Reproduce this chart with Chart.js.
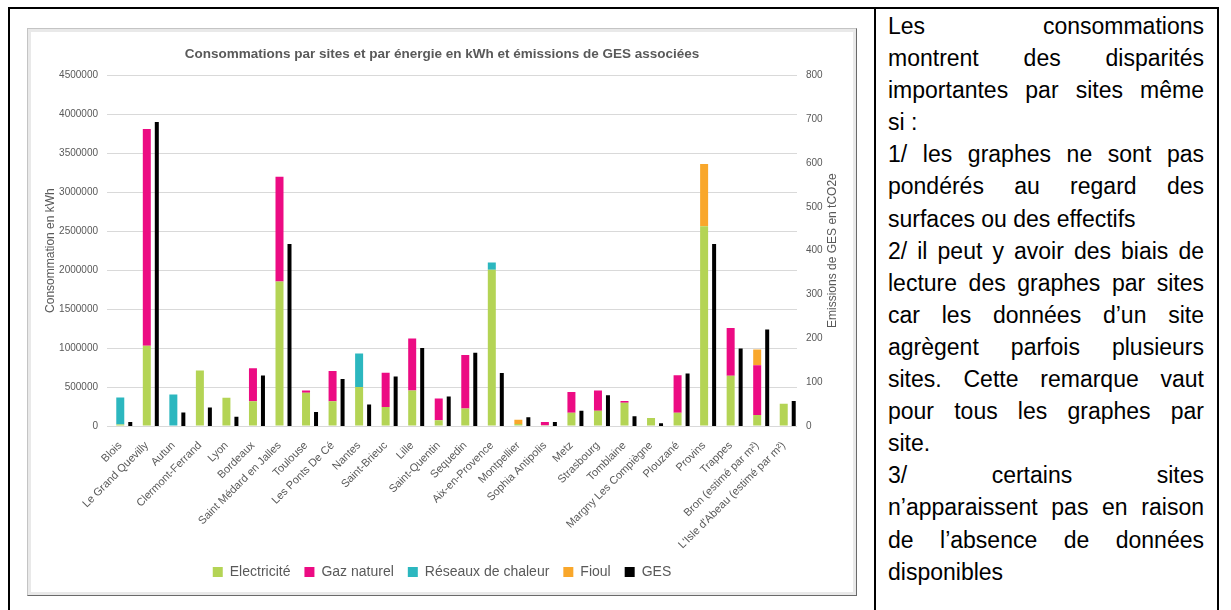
<!DOCTYPE html>
<html lang="fr">
<head>
<meta charset="utf-8">
<title>Consommations par sites</title>
<script src="https://cdn.jsdelivr.net/npm/chart.js@4.4.1/dist/chart.umd.min.js"></script>
<style>
  body { margin: 0; background: #fff; width: 1231px; height: 610px; overflow: hidden; position: relative; font-family: "Liberation Sans", Arial, sans-serif; }
  .rule { position: absolute; background: #000; }
  #frame { position: absolute; left: 27px; top: 28px; width: 828px; height: 566px; border: 1px solid; border-color: #c4c4c4 #6a6a6a #6a6a6a #c4c4c4; background: #e9e9e9; }
  #box { position: absolute; left: 3px; top: 3px; width: 822px; height: 560px; background: #fff; }
  #notes { position: absolute; left: 888px; top: 10px; width: 316px; font-size: 23px; line-height: 32.1px; color: #000; }
  #notes div { text-align: justify; text-align-last: justify; white-space: nowrap; }
  #notes div.end { text-align-last: left; }
</style>
</head>
<body>
<div class="rule" style="left:8px; top:7px; width:1211px; height:2px;"></div>
<div class="rule" style="left:8px; top:7px; width:2px; height:603px;"></div>
<div class="rule" style="left:874px; top:7px; width:2px; height:603px;"></div>
<div class="rule" style="left:1217px; top:7px; width:2px; height:603px;"></div>

<div id="frame"><div id="box"><canvas id="chart"></canvas></div></div>

<div id="notes">
  <div>Les consommations</div>
  <div>montrent des disparités</div>
  <div>importantes par sites même</div>
  <div class="end">si :</div>
  <div>1/ les graphes ne sont pas</div>
  <div>pondérés au regard des</div>
  <div class="end">surfaces ou des effectifs</div>
  <div>2/ il peut y avoir des biais de</div>
  <div>lecture des graphes par sites</div>
  <div>car les données d’un site</div>
  <div>agrègent parfois plusieurs</div>
  <div>sites. Cette remarque vaut</div>
  <div>pour tous les graphes par</div>
  <div class="end">site.</div>
  <div>3/ certains sites</div>
  <div>n’apparaissent pas en raison</div>
  <div>de l’absence de données</div>
  <div class="end">disponibles</div>
</div>

<script>
const sites = ['Blois', 'Le Grand Quevilly', 'Autun', 'Clermont-Ferrand', 'Lyon', 'Bordeaux',
  'Saint Médard en Jalles', 'Toulouse', 'Les Ponts De Cé', 'Nantes', 'Saint-Brieuc', 'Lille',
  'Saint-Quentin', 'Sequedin', 'Aix-en-Provence', 'Montpellier', 'Sophia Antipolis', 'Metz',
  'Strasbourg', 'Tomblaine', 'Margny Les Compiègne', 'Plouzané', 'Provins', 'Trappes',
  'Bron (estimé par m²)', "L'Isle d'Abeau (estimé par m²)"];

// kWh par énergie
const electricite = [20000, 1030000, 0, 712000, 362000, 316000, 1854000, 426000, 316000, 499000, 243000, 456000,
  73000, 226000, 2003000, 25000, 10000, 170000, 196000, 298000, 102000, 170000, 2561000, 643000, 141000, 285000];
const gazNaturel = [0, 2780000, 0, 0, 0, 425000, 1342000, 30000, 391000, 0, 439000, 665000,
  281000, 686000, 0, 0, 41000, 265000, 260000, 22000, 0, 482000, 0, 614000, 639000, 0];
const reseauxChaleur = [345000, 0, 405000, 0, 0, 0, 0, 0, 0, 430000, 0, 0,
  0, 0, 94000, 0, 0, 0, 0, 0, 0, 0, 0, 0, 0, 0];
const fioul = [0, 0, 0, 0, 0, 0, 0, 0, 0, 0, 0, 0,
  0, 0, 0, 56000, 0, 0, 0, 0, 0, 0, 801000, 0, 200000, 0];

// tCO2e
const ges = [9, 693, 31, 42, 21, 115, 415, 32, 107, 49, 113, 178,
  67, 167, 121, 20, 9, 35, 70, 22, 6, 120, 415, 177, 220, 57];

const kwhMax = 4500000, kwhStep = 500000;
const gesMax = 800, gesStep = 100;

const grey = '#595959';
const family = '"Liberation Sans", Arial, sans-serif';
const tickFont = { family, size: 10 };

// titre de l'axe secondaire, lu de bas en haut comme celui de gauche
const rightAxisTitle = {
  id: 'rightAxisTitle',
  afterDraw(chart) {
    const s = chart.scales.y1;
    const ctx = chart.ctx;
    ctx.save();
    ctx.translate(s.right - 20, (s.top + s.bottom) / 2);
    ctx.rotate(-Math.PI / 2);
    ctx.font = '12px ' + family;
    ctx.fillStyle = grey;
    ctx.textAlign = 'center';
    ctx.textBaseline = 'middle';
    ctx.fillText('Emissions de GES en tCO2e', 0, 0);
    ctx.restore();
  }
};

new Chart(document.getElementById('chart'), {
  type: 'bar',
  data: {
    labels: sites,
    datasets: [
      // pile vide à gauche pour décaler la colonne GES à droite de la pile
      { label: '', data: [], stack: 'vide', yAxisID: 'y' },
      { label: 'Electricité', data: electricite, backgroundColor: '#b4d455', stack: 'energie', yAxisID: 'y', barPercentage: 0.8 },
      { label: 'Gaz naturel', data: gazNaturel, backgroundColor: '#ec0b83', stack: 'energie', yAxisID: 'y', barPercentage: 0.8 },
      { label: 'Réseaux de chaleur', data: reseauxChaleur, backgroundColor: '#2cb7bf', stack: 'energie', yAxisID: 'y', barPercentage: 0.8 },
      { label: 'Fioul', data: fioul, backgroundColor: '#f9a72b', stack: 'energie', yAxisID: 'y', barPercentage: 0.8 },
      { label: 'GES', data: ges, backgroundColor: '#000000', stack: 'ges', yAxisID: 'y1', barPercentage: 0.4 }
    ]
  },
  options: {
    responsive: true,
    maintainAspectRatio: false,
    animation: false,
    datasets: { bar: { categoryPercentage: 1.13 } },
    layout: { padding: { left: 0, right: 0, top: 0, bottom: 3 } },
    plugins: {
      title: {
        display: true,
        text: 'Consommations par sites et par énergie en kWh et émissions de GES associées',
        color: grey,
        font: { family, size: 13.5, weight: 'bold' },
        padding: { top: 14, bottom: 13 }
      },
      legend: {
        position: 'bottom',
        labels: {
          color: grey,
          font: { family, size: 14 },
          boxWidth: 10,
          boxHeight: 10,
          padding: 14,
          filter: item => item.text !== ''
        }
      },
      tooltip: { enabled: false }
    },
    scales: {
      x: {
        grid: { display: false },
        border: { display: false },
        ticks: { color: grey, font: { family, size: 11 }, minRotation: 45, maxRotation: 45, autoSkip: false, padding: 5 },
        afterFit: s => { s.height = 125; }
      },
      y: {
        position: 'left',
        stacked: true,
        min: 0,
        max: kwhMax,
        grid: { color: '#d9d9d9', drawTicks: false },
        border: { display: false },
        ticks: { stepSize: kwhStep, color: grey, font: tickFont, padding: 9, callback: v => String(v) },
        title: { display: true, text: 'Consommation en kWh', color: grey, font: { family, size: 12 }, padding: { top: 12, bottom: 0 } },
        afterFit: s => { s.width = 76; }
      },
      y1: {
        position: 'right',
        min: 0,
        max: gesMax,
        grid: { display: false, drawTicks: false },
        border: { display: false },
        ticks: { stepSize: gesStep, color: grey, font: tickFont, padding: 9, callback: v => String(v) },
        afterFit: s => { s.width = 56; }
      }
    }
  },
  plugins: [rightAxisTitle]
});
</script>
</body>
</html>
